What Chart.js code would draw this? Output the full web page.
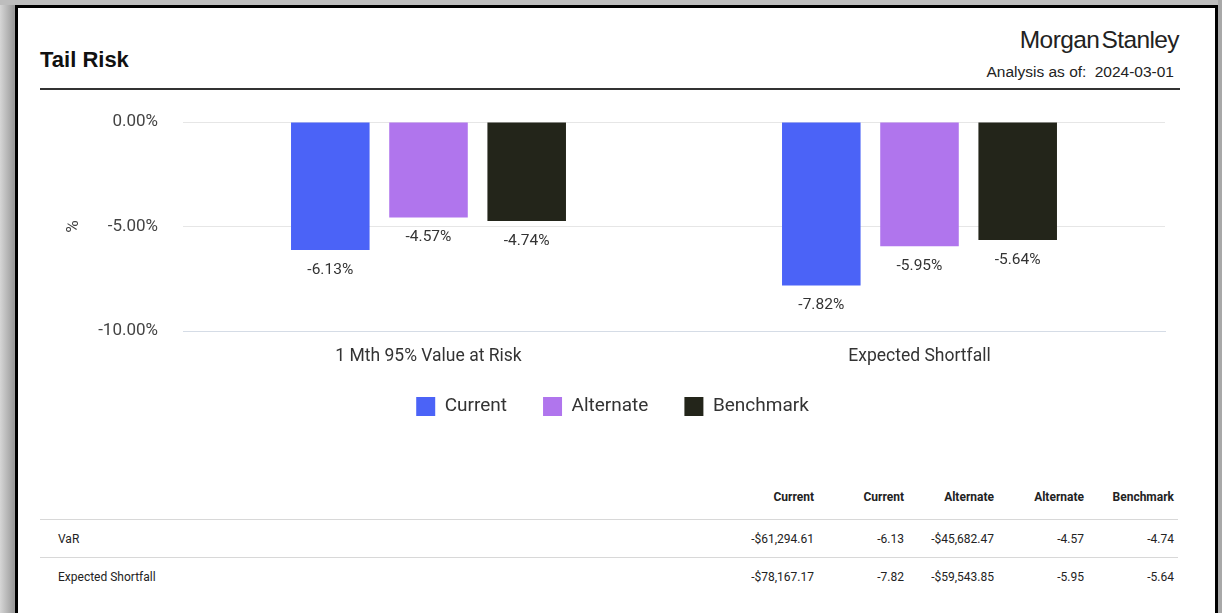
<!DOCTYPE html>
<html>
<head>
<meta charset="utf-8">
<script src="https://cdn.jsdelivr.net/npm/chart.js@4.4.0/dist/chart.umd.min.js"></script>
<style>
  body { margin: 0; width: 1222px; height: 613px; overflow: hidden; position: relative;
         background: linear-gradient(to right, #d6d6d6 0px, #9a9a9a 14px, #a0a0a0 15px); font-family: Roboto, sans-serif; }
  #card { position: absolute; left: 15px; top: 5px; width: 1197px; height: 700px; background: #fff;
          border: 3px solid #000; border-bottom: none; }
  #rightShade { position: absolute; left: 1218px; top: 0; width: 4px; height: 613px; background: #a8a8a8; }
  #topShade { position: absolute; left: 0; top: 0; width: 1222px; height: 5px; background: #bdbdbd; }
  .title { position: absolute; left: 40px; top: 47px; font: bold 22px "Liberation Sans", Arial, sans-serif; color: #111; }
  .brand { position: absolute; right: 43px; top: 26px; font: 24.5px "Liberation Sans", Arial, sans-serif; color: #222;
           letter-spacing: -0.6px; word-spacing: -4px; }
  .asof { position: absolute; right: 48px; top: 63px; font: 15.5px "Liberation Sans", Arial, sans-serif; color: #222; }
  .asof span { margin-left: 4px; }
  .rule { position: absolute; left: 40px; top: 88px; width: 1140px; height: 2px; background: #333; }
  #chartBox { position: absolute; left: 40px; top: 100px; width: 1140px; height: 331px; }
  #chartBox canvas { display: block; }
  table { position: absolute; left: 40px; top: 484px; border-collapse: collapse; font-size: 12px; color: #222; }
  th { font-weight: bold; text-align: right; height: 25px; padding: 0 4px 10px 0; vertical-align: middle; }
  td { text-align: right; height: 37px; padding: 0 4px 0 0; border-top: 1px solid #d8d8d8; vertical-align: middle; }
  td.lbl { text-align: left; padding-left: 18px; }
</style>
</head>
<body>
<div id="topShade"></div>
<div id="card"></div>
<div id="rightShade"></div>
<div class="title">Tail Risk</div>
<div class="brand">Morgan Stanley</div>
<div class="asof">Analysis as of: <span>2024-03-01</span></div>
<div class="rule"></div>
<div id="chartBox"><canvas id="tailRisk"></canvas></div>
<table id="tbl"></table>
<script>
const categories = ["1 Mth 95% Value at Risk", "Expected Shortfall"];
const seriesNames = ["Current", "Alternate", "Benchmark"];
const currentPct = [-6.13, -7.82];
const alternatePct = [-4.57, -5.95];
const benchmarkPct = [-4.74, -5.64];
const yTicks = [0, -5, -10];

const rowLabels = ["VaR", "Expected Shortfall"];
const tableHeaders = ["Current", "Current", "Alternate", "Alternate", "Benchmark"];
const currentDollar = ["-$61,294.61", "-$78,167.17"];
const alternateDollar = ["-$45,682.47", "-$59,543.85"];

const colors = ["#4b63f7", "#b075ed", "#23251a"];

// table under the chart
const tbl = document.getElementById("tbl");
let html = '<tr><th style="width:684px"></th>';
tableHeaders.forEach(h => { html += '<th style="width:86px">' + h + '</th>'; });
html += '</tr>';
rowLabels.forEach((lbl, i) => {
    html += '<tr><td class="lbl">' + lbl + '</td>' +
        '<td>' + currentDollar[i] + '</td>' +
        '<td>' + currentPct[i].toFixed(2) + '</td>' +
        '<td>' + alternateDollar[i] + '</td>' +
        '<td>' + alternatePct[i].toFixed(2) + '</td>' +
        '<td>' + benchmarkPct[i].toFixed(2) + '</td></tr>';
});
tbl.innerHTML = html;

// value labels under each bar
const barLabels = {
    id: "barLabels",
    afterDatasetsDraw(chart) {
        const ctx = chart.ctx;
        ctx.save();
        ctx.font = "15.5px Roboto";
        ctx.fillStyle = "#333";
        ctx.textAlign = "center";
        ctx.textBaseline = "middle";
        chart.data.datasets.forEach((ds, di) => {
            chart.getDatasetMeta(di).data.forEach((bar, i) => {
                ctx.fillText(ds.data[i].toFixed(2) + "%", bar.x, bar.y + 20);
            });
        });
        ctx.restore();
    }
};

// pull the legend a little closer to the axis labels
const legendNudge = {
    id: "legendNudge",
    afterLayout(chart) {
        chart.legend.top -= 5;
        chart.legend.bottom -= 5;
    }
};

const seriesData = [currentPct, alternatePct, benchmarkPct];

new Chart(document.getElementById("tailRisk"), {
    type: "bar",
    data: {
        labels: categories,
        datasets: seriesNames.map((name, i) => ({
            label: name,
            data: seriesData[i],
            backgroundColor: colors[i],
            categoryPercentage: 0.6,
            barPercentage: 0.8
        }))
    },
    options: {
        responsive: true,
        maintainAspectRatio: false,
        animation: false,
        layout: { padding: { left: 20, top: 22, right: 15, bottom: 0 } },
        plugins: {
            tooltip: { enabled: false },
            legend: {
                position: "bottom",
                labels: {
                    boxWidth: 19, boxHeight: 19, padding: 36,
                    color: "#333",
                    font: { family: "Roboto", size: 19 }
                }
            }
        },
        scales: {
            x: {
                afterFit(scale) { scale.height = 35; },
                grid: { display: false, drawTicks: false },
                border: { color: "#d5dce6" },
                ticks: { color: "#333", padding: 15, font: { family: "Roboto", size: 17.5 } }
            },
            y: {
                min: -10, max: 0,
                afterFit(scale) { scale.width = 123; },
                afterBuildTicks(scale) { scale.ticks = yTicks.map(v => ({ value: v })); },
                grid: { color: "#e6e6e6", drawTicks: true, tickLength: 22, tickColor: "rgba(0,0,0,0)" },
                border: { display: false },
                title: { display: true, text: "%", color: "#444", font: { family: "Roboto", size: 17 } },
                ticks: {
                    color: "#444", padding: 3,
                    font: { family: "Roboto", size: 17 },
                    callback: v => v.toFixed(2) + "%"
                }
            }
        }
    },
    plugins: [barLabels, legendNudge]
});
</script>
</body>
</html>
